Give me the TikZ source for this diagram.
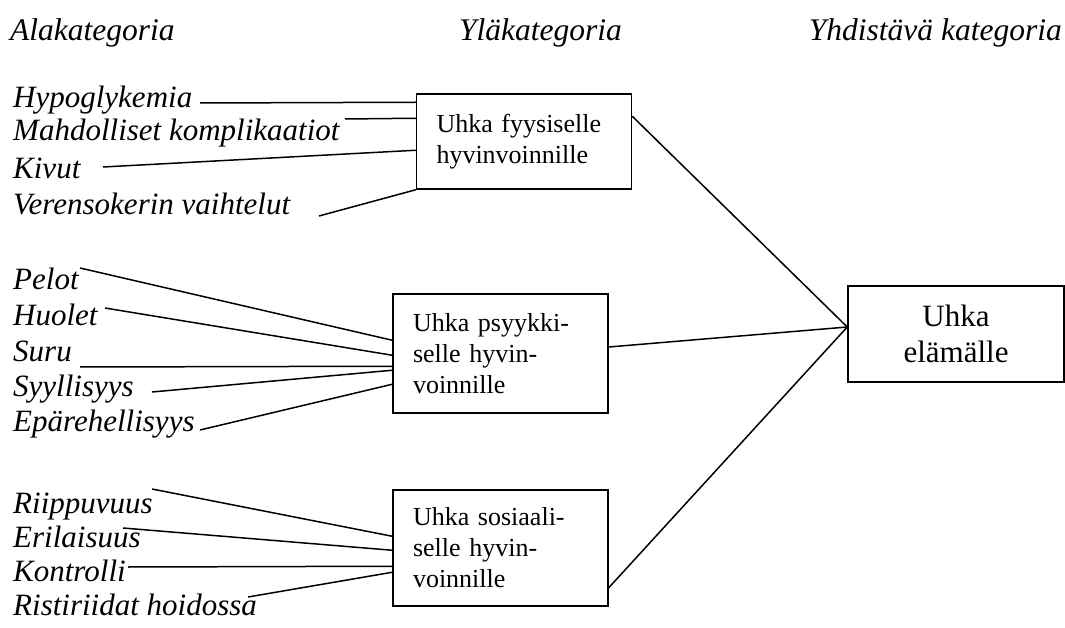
\documentclass[tikz,border=0pt]{standalone}
\usepackage{fontspec}
\setmainfont{Liberation Serif}
\tikzset{
  lbl/.style={anchor=base west, inner sep=0pt, font=\fontsize{31}{36}\selectfont\itshape},
  head/.style={anchor=base west, inner sep=0pt, font=\fontsize{31.5}{38}\selectfont\itshape},
  catbox/.style={draw, line width=1.5pt, text width=175pt, inner xsep=20pt, inner ysep=0pt,
    align=left, font=\fontsize{26}{31}\selectfont},
  mainbox/.style={draw, line width=1.5pt, minimum width=216pt, minimum height=96pt,
    align=center, font=\fontsize{31}{36}\selectfont},
  conn/.style={line width=1.5pt}
}
\begin{document}
\begin{tikzpicture}[x=1pt,y=-1pt]
    \useasboundingbox (0,0) rectangle (1065,628);
    % otsikot
    \node[head] (hala) at (10,41) {Alakategoria};
    \node[head] (hyla) at (459,41) {Yläkategoria};
    \node[head, anchor=base east] (hyhd) at (1062,41) {Yhdistävä kategoria};
    % kategoriat
    \node[catbox, minimum height=95pt] (fyys) at (524,141.5) {Uhka fyysiselle\\hyvinvoinnille};
    \node[catbox, minimum height=119pt] (psyk) at (500.5,353.5) {Uhka psyykki-\\selle hyvin-\\voinnille};
    \node[catbox, minimum height=116pt] (sosi) at (500.5,548) {Uhka sosiaali-\\selle hyvin-\\voinnille};
    \node[mainbox] (elama) at (956,334) {Uhka\\elämälle};
    % alakategoriat
    \node[lbl] (hypo) at (13,108) {Hypoglykemia};
    \node[lbl] (komp) at (13,141) {Mahdolliset komplikaatiot};
    \node[lbl] (kivu) at (13,179) {Kivut};
    \node[lbl] (vere) at (13,215) {Verensokerin vaihtelut};
    \node[lbl] (pelo) at (13,289) {Pelot};
    \node[lbl] (huol) at (13,325) {Huolet};
    \node[lbl] (suru) at (13,361) {Suru};
    \node[lbl] (syyl) at (13,396) {Syyllisyys};
    \node[lbl] (epar) at (13,431) {Epärehellisyys};
    \node[lbl] (riip) at (13,513) {Riippuvuus};
    \node[lbl] (eril) at (13,547) {Erilaisuus};
    \node[lbl] (kont) at (13,581) {Kontrolli};
    \node[lbl] (rist) at (13,615) {Ristiriidat hoidossa};
    % viivojen vapaat päät
    \coordinate (hypo-e) at (200,103);
    \coordinate (komp-e) at (345,119);
    \coordinate (kivu-e) at (103,167);
    \coordinate (vere-e) at (319,216);
    \coordinate (pelo-e) at (80,268);
    \coordinate (huol-e) at (105,308);
    \coordinate (suru-e) at (80,367);
    \coordinate (syyl-e) at (152,392);
    \coordinate (epar-e) at (200,430);
    \coordinate (riip-e) at (152,489);
    \coordinate (eril-e) at (123,528);
    \coordinate (kont-e) at (128,567);
    \coordinate (rist-e) at (248,597);
    % yhteydet
    \draw[conn] (hypo-e) -- ([yshift=-9pt]fyys.north west);
    \draw[conn] (komp-e) -- ([yshift=-25pt]fyys.north west);
    \draw[conn] (kivu-e) -- ([yshift=-57pt]fyys.north west);
    \draw[conn] (vere-e) -- (fyys.south west);
    \draw[conn] (pelo-e) -- ([yshift=-47pt]psyk.north west);
    \draw[conn] (huol-e) -- ([yshift=-62pt]psyk.north west);
    \draw[conn] (suru-e) -- ([yshift=-73pt]psyk.north west);
    \draw[conn] (syyl-e) -- ([yshift=-77pt]psyk.north west);
    \draw[conn] (epar-e) -- ([yshift=-91pt]psyk.north west);
    \draw[conn] (riip-e) -- ([yshift=-47pt]sosi.north west);
    \draw[conn] (eril-e) -- ([yshift=-61pt]sosi.north west);
    \draw[conn] (kont-e) -- ([yshift=-77pt]sosi.north west);
    \draw[conn] (rist-e) -- ([yshift=-83pt]sosi.north west);
    \draw[conn] ([yshift=-23pt]fyys.north east) -- ([yshift=7pt]elama.west);
    \draw[conn] ([yshift=6.5pt]psyk.east) -- ([yshift=7pt]elama.west);
    \draw[conn] ([yshift=19pt]sosi.south east) -- ([yshift=7pt]elama.west);
\end{tikzpicture}
\end{document}
